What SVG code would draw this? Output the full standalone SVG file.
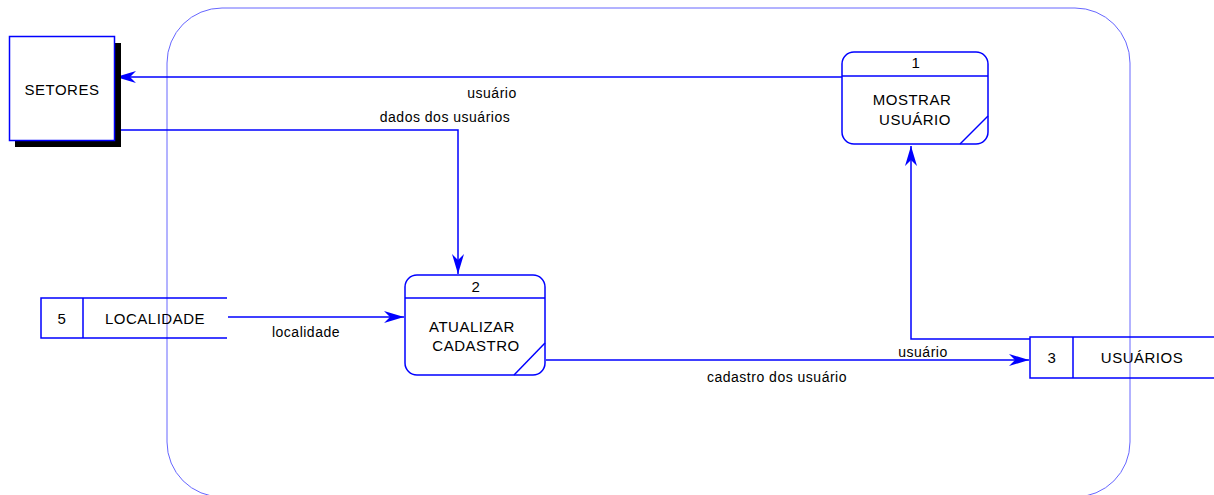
<svg xmlns="http://www.w3.org/2000/svg" width="1214" height="495" viewBox="0 0 1214 495">
<defs>
<style>
.ln{fill:none;stroke:#0000ff;stroke-width:1.5}
.bx{fill:#fff;stroke:#0000ff;stroke-width:1.5}
.t{font-family:"Liberation Sans",Arial,sans-serif;font-size:15px;letter-spacing:0.5px;fill:#000;text-anchor:middle}
.s{font-family:"Liberation Sans",Arial,sans-serif;font-size:14px;letter-spacing:0.5px;fill:#000;text-anchor:middle}
</style>
<marker id="ah" markerUnits="userSpaceOnUse" markerWidth="22" markerHeight="14" refX="20" refY="7" orient="auto">
<path d="M0,1 L20,7 L0,13 L6,7 z" fill="#0000ff"/>
</marker>
</defs>
<rect x="167" y="8" width="963" height="489" rx="55" ry="55" fill="none" stroke="#6666ff" stroke-width="1"/>
<g id="connectors">
<path class="ln" d="M842,77 H116" marker-end="url(#ah)"/>
<path class="ln" d="M116,130 H458 V274" marker-end="url(#ah)"/>
<path class="ln" d="M228,317 H404" marker-end="url(#ah)"/>
<path class="ln" d="M546,360 H1029" marker-end="url(#ah)"/>
<path class="ln" d="M1030,339 H911 V146" marker-end="url(#ah)"/>
<text class="s" x="492" y="98">usuário</text>
<text class="s" x="445" y="122">dados dos usuários</text>
<text class="s" x="306" y="337">localidade</text>
<text class="s" x="923" y="357">usuário</text>
<text class="s" x="777" y="382">cadastro dos usuário</text>
</g>
<g id="setores">
<rect x="15" y="43" width="106" height="104" fill="#000"/>
<rect class="bx" x="9.5" y="36.5" width="105" height="104"/>
<text class="t" x="62" y="95">SETORES</text>
</g>
<g id="p1">
<rect class="bx" x="842" y="52" width="146" height="92" rx="12" ry="12"/>
<line class="ln" x1="842" y1="76" x2="988" y2="76"/>
<line class="ln" x1="960" y1="144" x2="988" y2="116"/>
<text class="t" x="916" y="68">1</text>
<text class="t" x="912" y="105">MOSTRAR</text>
<text class="t" x="915" y="125">USUÁRIO</text>
</g>
<g id="p2">
<rect class="bx" x="405" y="275" width="140" height="100" rx="12" ry="12"/>
<line class="ln" x1="405" y1="298" x2="545" y2="298"/>
<line class="ln" x1="514" y1="375" x2="545" y2="343"/>
<text class="t" x="476" y="292">2</text>
<text class="t" x="472" y="332">ATUALIZAR</text>
<text class="t" x="476" y="351">CADASTRO</text>
</g>
<g id="ds5">
<path class="ln" d="M227,298 H41 V338 H227 M83,298 V338"/>
<text class="t" x="62" y="324">5</text>
<text class="t" x="155" y="324">LOCALIDADE</text>
</g>
<g id="ds3">
<path class="ln" d="M1214,337 H1030 V378 H1214 M1073,337 V378"/>
<text class="t" x="1052" y="363">3</text>
<text class="t" x="1142" y="363">USUÁRIOS</text>
</g>
</svg>
